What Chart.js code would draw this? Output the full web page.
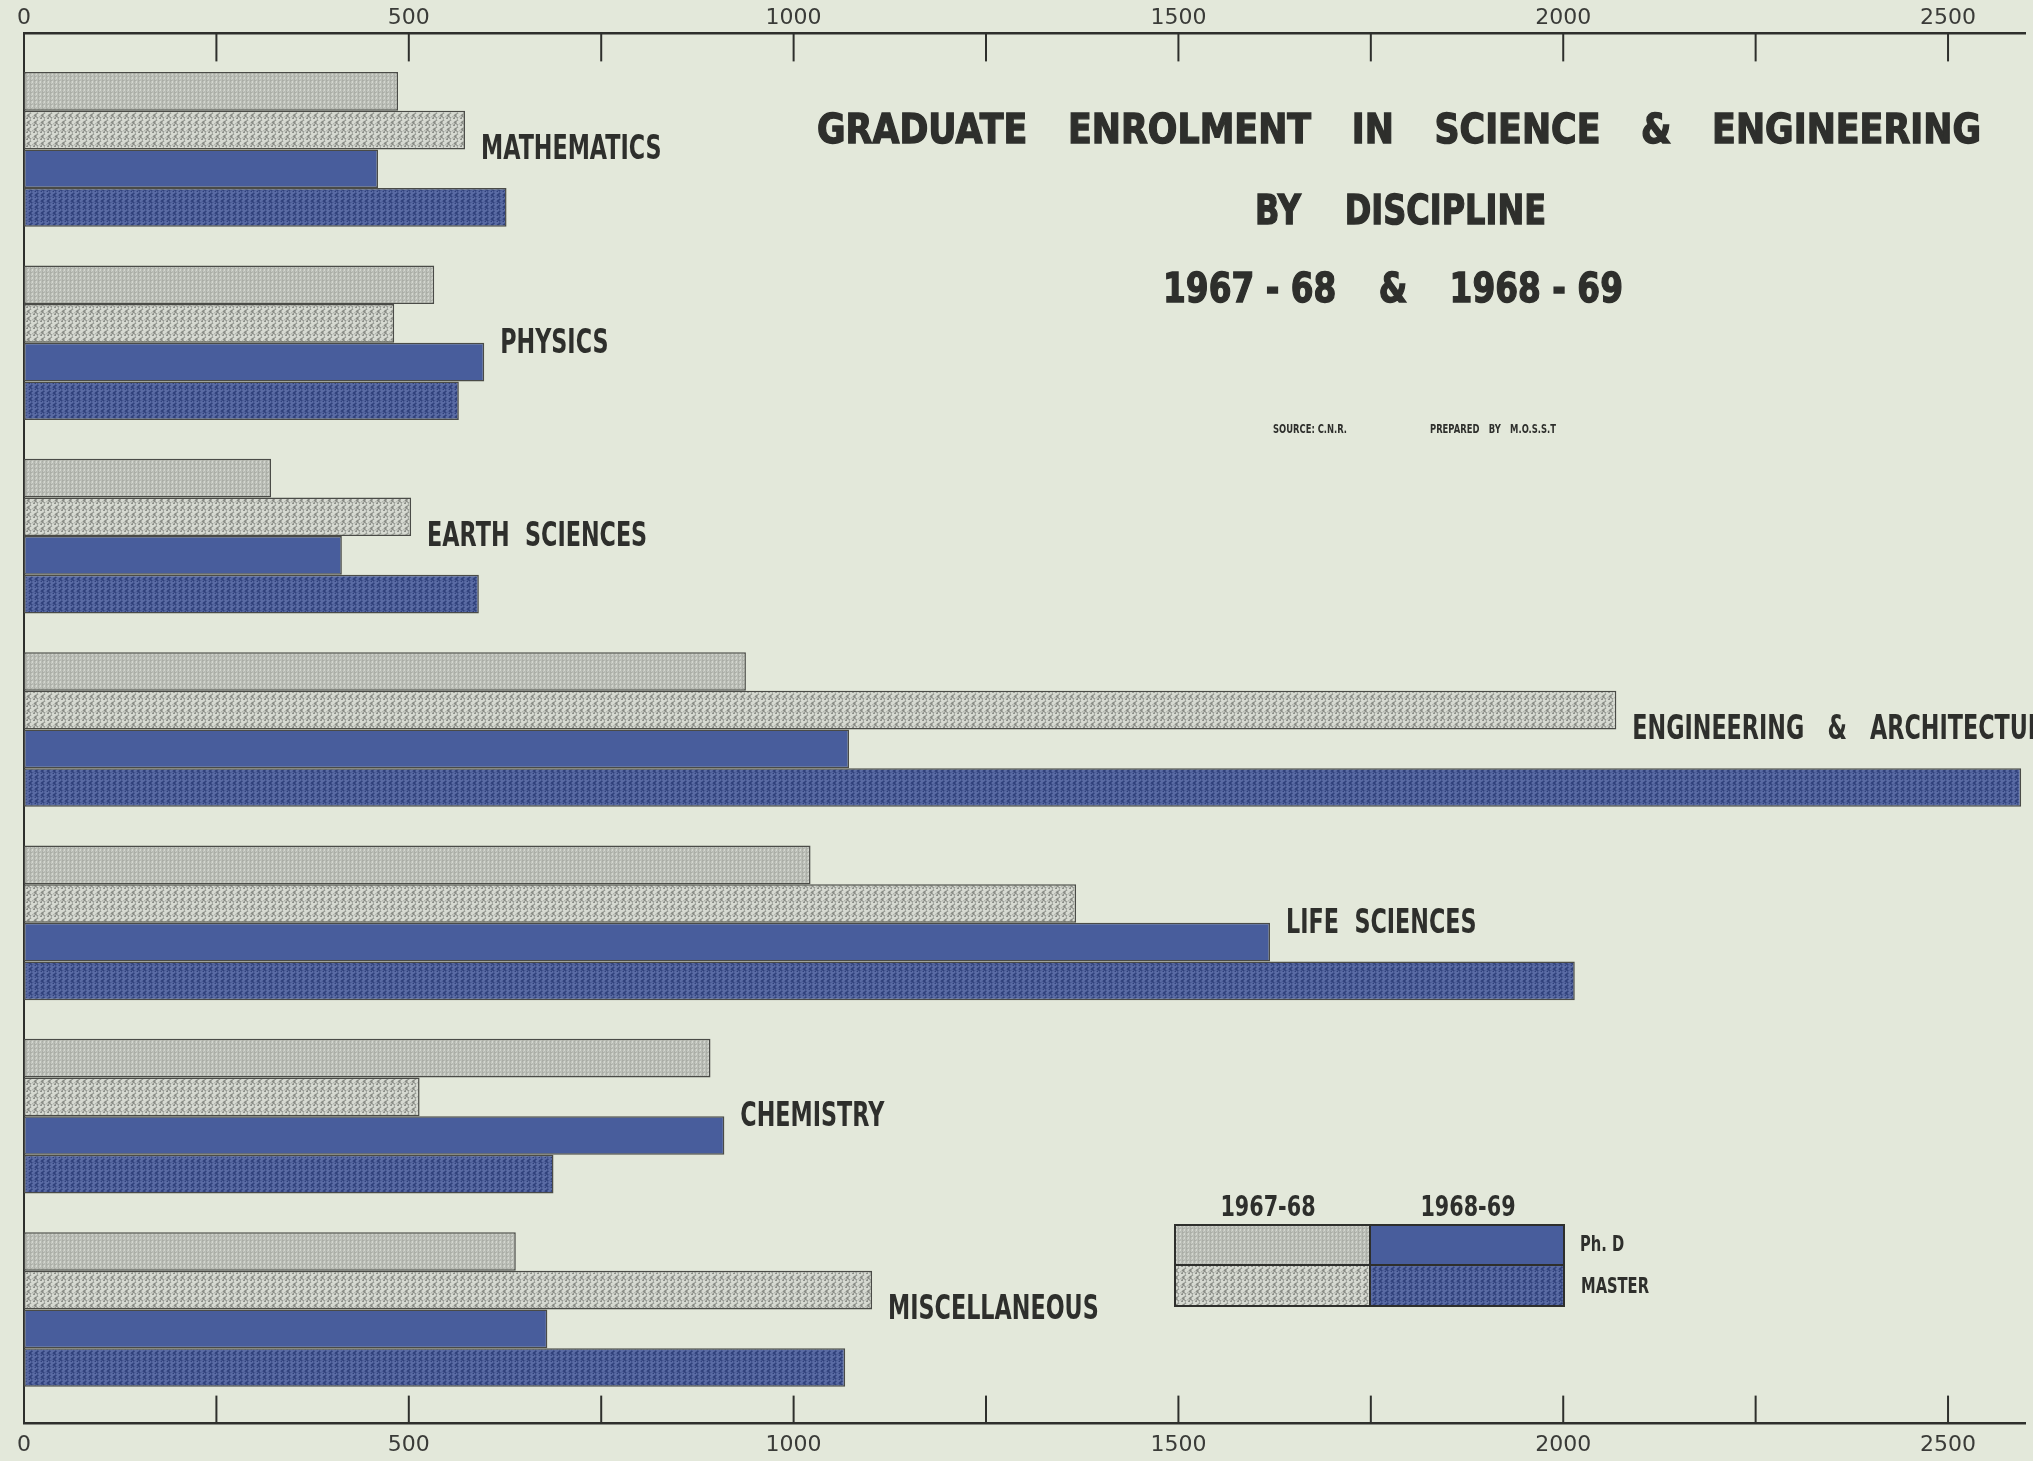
<!DOCTYPE html>
<html>
<head>
<meta charset="utf-8">
<script src="https://cdn.jsdelivr.net/npm/chart.js@4.4.1/dist/chart.umd.min.js"></script>
<style>
  html, body { margin: 0; padding: 0; background: #e3e8da; }
  #wrap { width: 2033px; height: 1461px; position: relative; }
</style>
</head>
<body>
<div id="wrap"><canvas id="myChart"></canvas></div>
<script>
var categories = ["MATHEMATICS", "PHYSICS", "EARTH  SCIENCES", "ENGINEERING   &   ARCHITECTURE", "LIFE  SCIENCES", "CHEMISTRY", "MISCELLANEOUS"];
var phd6768 = [486, 533, 321, 938, 1022, 892, 639];
var master6768 = [573, 481, 503, 2069, 1367, 514, 1102];
var phd6869 = [460, 598, 413, 1072, 1619, 910, 680];
var master6869 = [627, 565, 591, 2595, 2015, 688, 1067];
var xTicks = [0, 500, 1000, 1500, 2000, 2500];
var titleLines = [
  ["GRADUATE", "ENROLMENT", "IN", "SCIENCE", "&", "ENGINEERING"],
  ["BY", "DISCIPLINE"],
  ["1967 - 68", "&", "1968 - 69"]
];

var ink = "#2e2f2c";

// little textures like the printed screens
function makePattern(bg, dot, size, r) {
  var c = document.createElement("canvas");
  c.width = size; c.height = size;
  var p = c.getContext("2d");
  p.fillStyle = bg;
  p.fillRect(0, 0, size, size);
  p.fillStyle = dot;
  p.beginPath();
  p.arc(size / 2, size / 2, r, 0, Math.PI * 2);
  p.arc(0, 0, r, 0, Math.PI * 2);
  p.arc(size, 0, r, 0, Math.PI * 2);
  p.arc(0, size, r, 0, Math.PI * 2);
  p.arc(size, size, r, 0, Math.PI * 2);
  p.fill();
  return p.createPattern(c, "repeat");
}

var grayFine = makePattern("#d4d7d0", "#abaea7", 4, 0.9);
var grayCoarse = makePattern("#8a8d87", "#d6d9d1", 7, 2.1);
var blueSolid = "#485d9c";
var blueDotted = makePattern("#2f407a", "#5a6ba4", 6, 1.6);

function toPoints(arr) {
  return arr.map(function (v, i) { return { x: v, y: i }; });
}

function drawSpaced(ctx, words, x0, x1, y, font, squeeze, heavy) {
  ctx.font = font;
  var widths = words.map(function (w) { return ctx.measureText(w).width * squeeze; });
  var total = widths.reduce(function (a, b) { return a + b; }, 0);
  var gap = words.length > 1 ? (x1 - x0 - total) / (words.length - 1) : 0;
  var x = x0;
  for (var i = 0; i < words.length; i++) {
    ctx.save();
    ctx.translate(x, y);
    ctx.scale(squeeze, 1);
    ctx.fillText(words[i], 0, 0);
    if (heavy) {
      ctx.lineWidth = heavy;
      ctx.strokeStyle = ctx.fillStyle;
      ctx.strokeText(words[i], 0, 0);
    }
    ctx.restore();
    x += widths[i] + gap;
  }
}

function squeezedText(ctx, text, x, y, font, squeeze) {
  ctx.save();
  ctx.font = font;
  ctx.translate(x, y);
  ctx.scale(squeeze, 1);
  ctx.fillText(text, 0, 0);
  ctx.restore();
}

var paperPlugin = {
  id: "paper",
  beforeDraw: function (chart) {
    var ctx = chart.ctx;
    ctx.save();
    ctx.fillStyle = "#e3e8da";
    ctx.fillRect(0, 0, chart.width, chart.height);
    ctx.restore();
  }
};

var decorPlugin = {
  id: "decor",
  afterDraw: function (chart) {
    var ctx = chart.ctx;
    var xs = chart.scales.x;
    var ys = chart.scales.y;
    var area = chart.chartArea;
    ctx.save();

    // inward tick marks on both axes
    ctx.strokeStyle = ink;
    ctx.lineWidth = 2;
    xs.ticks.forEach(function (t) {
      if (t.value <= 0 || t.value % 250 !== 0) return;
      var px = xs.getPixelForValue(t.value);
      ctx.beginPath();
      ctx.moveTo(px, area.top);
      ctx.lineTo(px, area.top + 28);
      ctx.stroke();
      ctx.beginPath();
      ctx.moveTo(px, area.bottom);
      ctx.lineTo(px, area.bottom - 28);
      ctx.stroke();
    });

    // category labels beside the bars
    ctx.fillStyle = ink;
    ctx.textBaseline = "middle";
    categories.forEach(function (name, i) {
      var top = Math.max(phd6768[i], master6768[i], phd6869[i]);
      var px = xs.getPixelForValue(top) + 16;
      var py = ys.getPixelForValue(i) + 1;
      squeezedText(ctx, name, px, py, "bold 34px 'DejaVu Sans'", 0.655);
    });

    // title block
    ctx.textBaseline = "middle";
    drawSpaced(ctx, titleLines[0], 817, 1981, 132, "bold 41px 'DejaVu Sans'", 0.85, 1.4);
    drawSpaced(ctx, titleLines[1], 1255, 1546, 213, "bold 41px 'DejaVu Sans'", 0.78, 1.4);
    drawSpaced(ctx, titleLines[2], 1163, 1623, 291, "bold 41px 'DejaVu Sans'", 0.8, 1.4);
    drawSpaced(ctx, ["SOURCE: C.N.R."], 1273, 1356, 430, "bold 12px 'DejaVu Sans'", 0.7);
    drawSpaced(ctx, ["PREPARED", "BY", "M.O.S.S.T"], 1430, 1556, 430, "bold 12px 'DejaVu Sans'", 0.7);

    // legend
    var ds = chart.data.datasets;
    var lx0 = 1175, lx1 = 1370, lx2 = 1564, ly0 = 1225, ly1 = 1265, ly2 = 1306;
    var cells = [
      [lx0, ly0, lx1 - lx0, ly1 - ly0, ds[0].backgroundColor],
      [lx1, ly0, lx2 - lx1, ly1 - ly0, ds[2].backgroundColor],
      [lx0, ly1, lx1 - lx0, ly2 - ly1, ds[1].backgroundColor],
      [lx1, ly1, lx2 - lx1, ly2 - ly1, ds[3].backgroundColor]
    ];
    ctx.lineWidth = 2;
    ctx.strokeStyle = ink;
    cells.forEach(function (c) {
      ctx.fillStyle = c[4];
      ctx.fillRect(c[0], c[1], c[2], c[3]);
      ctx.strokeRect(c[0], c[1], c[2], c[3]);
    });
    ctx.fillStyle = ink;
    ctx.textAlign = "center";
    squeezedText(ctx, "1967-68", 1268, 1209, "bold 28px 'DejaVu Sans'", 0.74);
    squeezedText(ctx, "1968-69", 1468, 1209, "bold 28px 'DejaVu Sans'", 0.74);
    ctx.textAlign = "left";
    squeezedText(ctx, "Ph. D", 1580, 1246, "bold 21px 'DejaVu Sans'", 0.7);
    squeezedText(ctx, "MASTER", 1581, 1288, "bold 21px 'DejaVu Sans'", 0.7);

    ctx.restore();
  }
};

var barStyle = { borderColor: "#4a4b47", borderWidth: 1.5, borderSkipped: false };

var ctx = document.getElementById("myChart").getContext("2d");
var myChart = new Chart(ctx, {
  type: "bar",
  data: {
    datasets: [
      Object.assign({ label: "Ph. D 1967-68", data: toPoints(phd6768), backgroundColor: grayFine }, barStyle),
      Object.assign({ label: "MASTER 1967-68", data: toPoints(master6768), backgroundColor: grayCoarse }, barStyle),
      Object.assign({ label: "Ph. D 1968-69", data: toPoints(phd6869), backgroundColor: blueSolid }, barStyle),
      Object.assign({ label: "MASTER 1968-69", data: toPoints(master6869), backgroundColor: blueDotted }, barStyle)
    ]
  },
  options: {
    indexAxis: "y",
    responsive: true,
    maintainAspectRatio: false,
    animation: false,
    categoryPercentage: 0.8,
    barPercentage: 1.0,
    layout: { padding: { left: 16, right: 8, top: 3, bottom: 1 } },
    plugins: { legend: { display: false }, tooltip: { enabled: false } },
    scales: {
      y: {
        type: "linear",
        reverse: true,
        min: -0.6,
        max: 6.59,
        offset: false,
        ticks: { display: false, stepSize: 1, includeBounds: false },
        grid: { display: false },
        border: { display: true, color: ink, width: 2 }
      },
      x: {
        type: "linear",
        position: "top",
        min: 0,
        max: 2600,
        ticks: {
          stepSize: 250,
          includeBounds: false,
          autoSkip: false,
          maxRotation: 0,
          padding: 2,
          color: "#3a3b38",
          font: { family: "'DejaVu Sans'", size: 22 },
          callback: function (v) { return xTicks.indexOf(v) >= 0 ? String(v) : ""; }
        },
        grid: { display: false, drawTicks: false },
        border: { display: true, color: ink, width: 2.5 }
      },
      x2: {
        type: "linear",
        position: "bottom",
        min: 0,
        max: 2600,
        ticks: {
          stepSize: 250,
          includeBounds: false,
          autoSkip: false,
          maxRotation: 0,
          padding: 2,
          color: "#3a3b38",
          font: { family: "'DejaVu Sans'", size: 22 },
          callback: function (v) { return xTicks.indexOf(v) >= 0 ? String(v) : ""; }
        },
        grid: { display: true, drawOnChartArea: false, drawTicks: true, tickLength: 6, tickColor: "rgba(0,0,0,0)" },
        border: { display: true, color: ink, width: 2.5 }
      }
    }
  },
  plugins: [paperPlugin, decorPlugin]
});
</script>
</body>
</html>
